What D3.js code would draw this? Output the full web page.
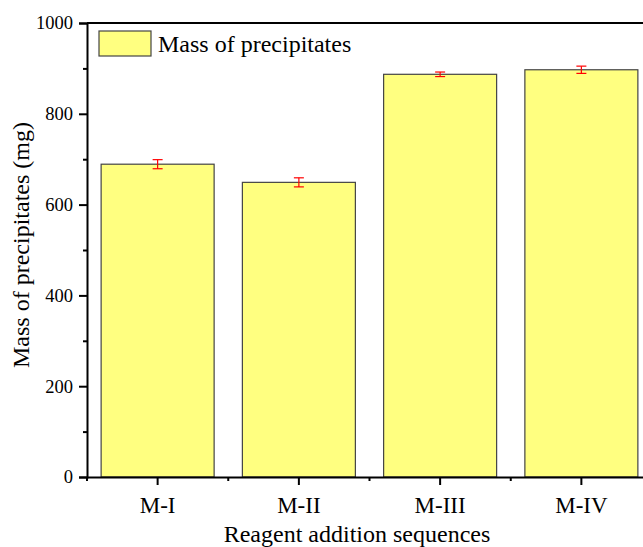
<!DOCTYPE html>
<html>
<head>
<meta charset="utf-8">
<script src="https://cdn.jsdelivr.net/npm/d3@7"></script>
<style>
  body { margin: 0; background: #fff; }
  svg text { font-family: "Liberation Serif", "Times New Roman", serif; fill: #000; }
</style>
</head>
<body>
<div id="chart"></div>
<script>
// data
const categories = ["M-I", "M-II", "M-III", "M-IV"];
const masses = [689, 649, 887, 897];
const errors = [10, 10, 5, 8];
const yTicks = [0, 200, 400, 600, 800, 1000];
const yMinor = [100, 300, 500, 700, 900];

const W = 643, H = 547;
const plotLeft = 87, plotRight = 652, plotTop = 23, plotBottom = 477;

const svg = d3.select("#chart").append("svg")
    .attr("width", W)
    .attr("height", H)

const x = d3.scaleBand()
    .domain(categories)
    .range([plotLeft, plotRight])
    .paddingInner(0.2)
    .paddingOuter(0.1)

const y = d3.scaleLinear()
    .domain([0, 1000])
    .range([plotBottom, plotTop])

// bars
svg.append("g")
    .selectAll("rect")
    .data(categories)
    .join("rect")
    .attr("x", d => x(d))
    .attr("width", x.bandwidth())
    .attr("y", (d, i) => y(masses[i]))
    .attr("height", (d, i) => y(0) - y(masses[i]))
    .attr("fill", "#ffff80")
    .attr("stroke", "#444")
    .attr("stroke-width", 1.2)

// error bars
const eb = svg.append("g").attr("stroke", "#ff0000").attr("stroke-width", 1.2)
categories.forEach((c, i) => {
    const cx = x(c) + x.bandwidth() / 2;
    eb.append("line").attr("x1", cx).attr("x2", cx)
        .attr("y1", y(masses[i] - errors[i])).attr("y2", y(masses[i] + errors[i]))
    eb.append("line").attr("x1", cx - 5).attr("x2", cx + 5)
        .attr("y1", y(masses[i] + errors[i])).attr("y2", y(masses[i] + errors[i]))
    eb.append("line").attr("x1", cx - 5).attr("x2", cx + 5)
        .attr("y1", y(masses[i] - errors[i])).attr("y2", y(masses[i] - errors[i]))
})

// y axis
const yAxis = svg.append("g")
    .attr("transform", `translate(${plotLeft},0)`)
    .call(d3.axisLeft(y).tickValues(yTicks).tickSize(8).tickPadding(6).tickFormat(d3.format("d")))
yAxis.selectAll(".tick text").style("font-size", "18.5px")
yAxis.selectAll(".tick line").attr("stroke-width", 2)
yAxis.select(".domain").attr("stroke-width", 2)

svg.append("g")
    .attr("transform", `translate(${plotLeft},0)`)
    .call(d3.axisLeft(y).tickValues(yMinor).tickSize(4).tickFormat(""))
    .call(g => g.select(".domain").remove())
    .selectAll("line").attr("stroke-width", 2)

// x axis
const xAxis = svg.append("g")
    .attr("transform", `translate(0,${plotBottom})`)
    .call(d3.axisBottom(x).tickSize(8).tickPadding(12).tickSizeOuter(0))
xAxis.selectAll(".tick text").style("font-size", "23px").style("word-spacing", "2px")
xAxis.selectAll(".tick line").attr("stroke-width", 2)
xAxis.select(".domain").attr("stroke-width", 2)

// minor x ticks at band edges
const edges = categories.map(c => x(c) - x.step() * x.paddingInner() / 2)
svg.append("g")
    .selectAll("line")
    .data(edges)
    .join("line")
    .attr("x1", d => d).attr("x2", d => d)
    .attr("y1", plotBottom).attr("y2", plotBottom + 4)
    .attr("stroke", "#000")
    .attr("stroke-width", 2)

// frame top and right
svg.append("line").attr("x1", plotLeft).attr("x2", plotRight).attr("y1", plotTop).attr("y2", plotTop)
    .attr("stroke", "#000").attr("stroke-width", 2)
svg.append("line").attr("x1", plotRight).attr("x2", plotRight).attr("y1", plotTop).attr("y2", plotBottom)
    .attr("stroke", "#000").attr("stroke-width", 2)

// axis titles
svg.append("text")
    .attr("transform", `translate(29,245) rotate(-90)`)
    .attr("text-anchor", "middle")
    .style("font-size", "24px")
    .text("Mass of precipitates (mg)")

svg.append("text")
    .attr("x", 357)
    .attr("y", 542)
    .attr("text-anchor", "middle")
    .style("font-size", "24px")
    .text("Reagent addition sequences")

// legend
svg.append("rect")
    .attr("x", 99).attr("y", 31)
    .attr("width", 52).attr("height", 25)
    .attr("fill", "#ffff80")
    .attr("stroke", "#444")
    .attr("stroke-width", 1.2)
svg.append("text")
    .attr("x", 158).attr("y", 52)
    .style("font-size", "24px")
    .text("Mass of precipitates")
</script>
</body>
</html>
